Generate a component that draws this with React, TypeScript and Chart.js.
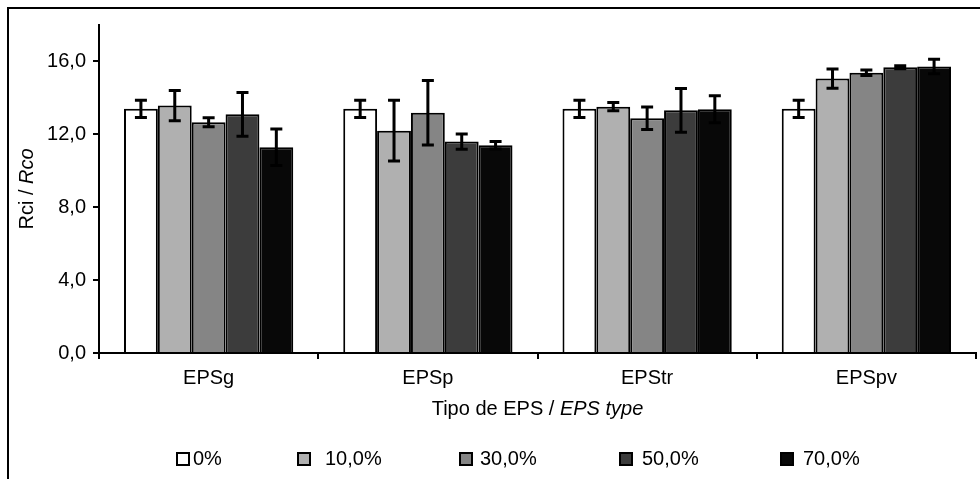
import { useEffect, useRef } from 'react';
import { Chart, registerables } from 'chart.js';
Chart.register(...registerables);

const categories = ['EPSg', 'EPSp', 'EPStr', 'EPSpv'];
const seriesLabels = ['0%', '10,0%', '30,0%', '50,0%', '70,0%'];
const values0 = [13.4, 13.4, 13.4, 13.4];
const values10 = [13.58, 12.2, 13.52, 15.06];
const values30 = [12.66, 13.19, 12.88, 15.38];
const values50 = [13.1, 11.6, 13.32, 15.68];
const values70 = [11.29, 11.4, 13.38, 15.72];
const errors0 = [0.47, 0.47, 0.47, 0.47];
const errors10 = [0.83, 1.67, 0.23, 0.53];
const errors30 = [0.25, 1.77, 0.62, 0.15];
const errors50 = [1.2, 0.42, 1.2, 0.08];
const errors70 = [1.0, 0.2, 0.74, 0.4];
const yTicks = [0, 4, 8, 12, 16];

const seriesValues = [values0, values10, values30, values50, values70];
const seriesErrors = [errors0, errors10, errors30, errors50, errors70];
const seriesColors = ['#ffffff', '#b0b0b0', '#858585', '#3c3c3c', '#080808'];

const FONT = '"Liberation Sans", Arial, sans-serif';
const legendBoxX = [177, 298, 460, 620, 781];
const legendTextX = [193, 325, 480, 642, 803];

const errorBarPlugin = {
  id: 'errorBars',
  afterDatasetsDraw(chart: any) {
    const ctx = chart.ctx;
    const y = chart.scales.y;
    ctx.save();
    ctx.strokeStyle = '#000';
    ctx.lineWidth = 3;
    chart.data.datasets.forEach((ds: any, i: number) => {
      const meta = chart.getDatasetMeta(i);
      meta.data.forEach((bar: any, j: number) => {
        const v = ds.data[j];
        const e = ds.errors[j];
        const yt = y.getPixelForValue(v + e);
        const yb = y.getPixelForValue(v - e);
        const x = bar.x;
        ctx.beginPath();
        ctx.moveTo(x, yt);
        ctx.lineTo(x, yb);
        ctx.moveTo(x - 6, yt);
        ctx.lineTo(x + 6, yt);
        ctx.moveTo(x - 6, yb);
        ctx.lineTo(x + 6, yb);
        ctx.stroke();
      });
    });
    ctx.restore();
  },
};

const decorPlugin = {
  id: 'decor',
  afterDraw(chart: any) {
    const ctx = chart.ctx;
    const area = chart.chartArea;
    ctx.save();
    // frame
    ctx.fillStyle = '#000';
    ctx.fillRect(7, 7, 2, 479);
    ctx.fillRect(7, 7, 980, 2);
    // x title
    ctx.textBaseline = 'middle';
    ctx.fillStyle = '#000';
    const nx = 'Tipo de EPS / ';
    const ix = 'EPS type';
    ctx.font = `20px ${FONT}`;
    const w1 = ctx.measureText(nx).width;
    ctx.font = `italic 20px ${FONT}`;
    const w2 = ctx.measureText(ix).width;
    const cx = (area.left + area.right) / 2;
    const sx = cx - (w1 + w2) / 2;
    ctx.textAlign = 'left';
    ctx.font = `20px ${FONT}`;
    ctx.fillText(nx, sx, 409);
    ctx.font = `italic 20px ${FONT}`;
    ctx.fillText(ix, sx + w1, 409);
    // y title
    const ny = 'Rci / ';
    const iy = 'Rco';
    ctx.font = `20px ${FONT}`;
    const v1 = ctx.measureText(ny).width;
    ctx.font = `italic 20px ${FONT}`;
    const v2 = ctx.measureText(iy).width;
    ctx.translate(27, (area.top + area.bottom) / 2);
    ctx.rotate(-Math.PI / 2);
    const sy = -(v1 + v2) / 2;
    ctx.font = `20px ${FONT}`;
    ctx.fillText(ny, sy, 0);
    ctx.font = `italic 20px ${FONT}`;
    ctx.fillText(iy, sy + v1, 0);
    ctx.restore();
    // legend
    ctx.save();
    ctx.textBaseline = 'middle';
    ctx.textAlign = 'left';
    ctx.font = `20px ${FONT}`;
    chart.data.datasets.forEach((ds: any, i: number) => {
      const bx = legendBoxX[i];
      ctx.fillStyle = ds.backgroundColor;
      ctx.fillRect(bx, 453, 12, 12);
      ctx.strokeStyle = '#000';
      ctx.lineWidth = 2;
      ctx.strokeRect(bx, 453, 12, 12);
      ctx.fillStyle = '#000';
      ctx.fillText(ds.label, legendTextX[i], 459);
    });
    ctx.restore();
  },
};

export default function App() {
  const ref = useRef<HTMLCanvasElement>(null);
  useEffect(() => {
    if (!ref.current) return;
    const chart = new Chart(ref.current, {
      type: 'bar',
      data: {
        labels: categories,
        datasets: seriesLabels.map((label, i) => ({
          label,
          data: seriesValues[i],
          errors: seriesErrors[i],
          backgroundColor: seriesColors[i],
          borderColor: '#000',
          borderWidth: 2,
          categoryPercentage: 0.772,
          barPercentage: 1,
        })) as any,
      },
      options: {
        animation: false,
        responsive: false,
        maintainAspectRatio: false,
        layout: { padding: { left: 0, right: 4, top: 25, bottom: 0 } },
        plugins: { legend: { display: false }, tooltip: { enabled: false }, title: { display: false } },
        scales: {
          x: {
            grid: { drawOnChartArea: false, drawTicks: true, tickLength: 6, color: '#000', lineWidth: 2, offset: true },
            border: { display: true, color: '#000', width: 2 },
            ticks: { color: '#000', font: { family: FONT, size: 20 }, padding: 7 },
            afterFit: (s: any) => { s.height = 126; },
          },
          y: {
            min: 0,
            max: 18,
            grid: { drawOnChartArea: false, drawTicks: true, tickLength: 6, color: '#000', lineWidth: 2 },
            border: { display: true, color: '#000', width: 2 },
            ticks: {
              color: '#000',
              font: { family: FONT, size: 20 },
              padding: 7,
              callback: (v: any) => Number(v).toFixed(1).replace('.', ','),
            },
            afterBuildTicks: (s: any) => { s.ticks = yTicks.map((v) => ({ value: v })); },
            afterFit: (s: any) => { s.width = 99; },
          },
        },
      },
      plugins: [errorBarPlugin, decorPlugin],
    } as any);
    return () => chart.destroy();
  }, []);
  return (
    <div style={{ position: 'fixed', left: 0, top: 0, width: 980, height: 479, background: '#fff' }}>
      <canvas ref={ref} width={980} height={479} style={{ width: 980, height: 479, display: 'block' }} />
    </div>
  );
}
